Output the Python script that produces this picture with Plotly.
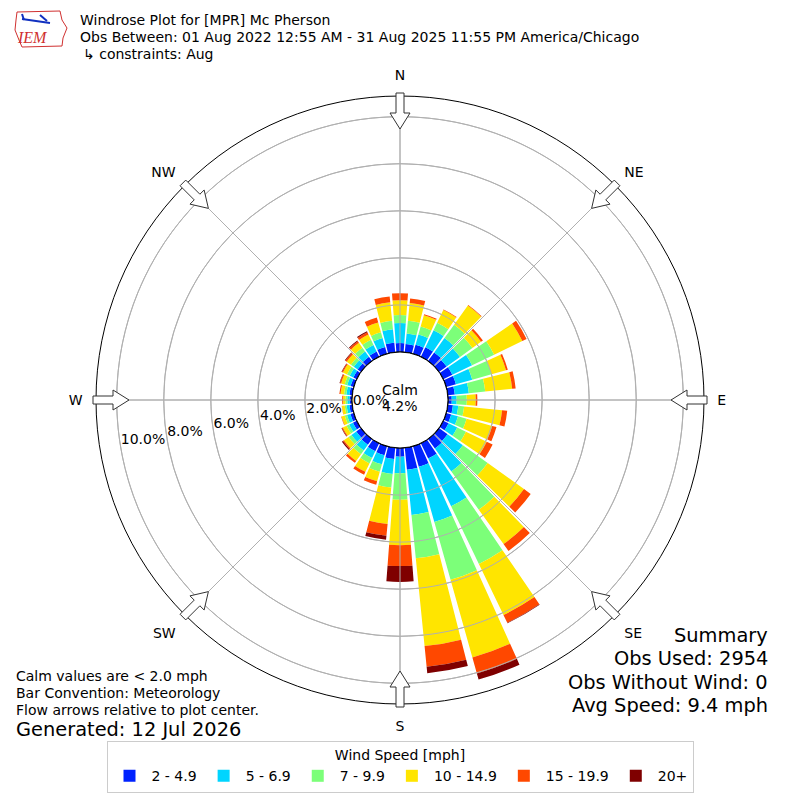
import math
import plotly.graph_objects as go

# wind directions (deg, meteorological) and speed classes
directions = list(range(0, 360, 10))
speed_bins = ["2 - 4.9", "5 - 6.9", "7 - 9.9", "10 - 14.9", "15 - 19.9", "20+"]
bin_colors = ["#0022ff", "#00d5ff", "#7cff79", "#ffe500", "#ff4800", "#7f0000"]

# percent of obs per direction for each speed class
pct_2_5 = [0.38, 0.35, 0.40, 0.45, 0.45, 0.40, 0.43, 0.43, 0.30, 0.16, 0.22, 0.22,
           0.25, 0.45, 0.50, 0.72, 0.91, 0.94, 0.37, 0.48, 0.40, 0.38, 0.30, 0.25,
           0.18, 0.15, 0.12, 0.10, 0.12, 0.14, 0.16, 0.18, 0.22, 0.25, 0.30, 0.40]
pct_5_7 = [0.85, 0.45, 0.45, 0.80, 0.75, 0.70, 0.93, 0.72, 0.60, 0.21, 0.23, 0.30,
           0.41, 0.80, 1.20, 2.25, 2.44, 1.93, 0.70, 0.64, 0.40, 0.32, 0.30, 0.25,
           0.18, 0.15, 0.12, 0.10, 0.13, 0.15, 0.17, 0.20, 0.28, 0.31, 0.40, 0.58]
pct_7_10 = [0.34, 0.55, 0.35, 0.35, 0.70, 0.65, 1.04, 0.85, 0.70, 0.43, 0.25, 0.38,
            0.41, 1.30, 2.00, 2.72, 2.55, 1.85, 1.13, 0.58, 0.33, 0.25, 0.20, 0.15,
            0.12, 0.10, 0.08, 0.08, 0.10, 0.11, 0.13, 0.15, 0.20, 0.24, 0.25, 0.36]
pct_10_15 = [0.63, 0.75, 0.50, 0.60, 1.00, 0.45, 1.33, 0.64, 1.15, 0.38, 1.62, 1.13,
             0.98, 1.90, 1.80, 2.41, 3.43, 3.75, 1.93, 1.56, 0.42, 0.40, 0.35, 0.25,
             0.18, 0.14, 0.12, 0.10, 0.15, 0.16, 0.19, 0.22, 0.25, 0.25, 0.43, 0.79]
pct_15_20 = [0.30, 0.20, 0.05, 0.03, 0.03, 0.10, 0.20, 0.08, 0.15, 0.07, 0.22, 0.19,
             0.28, 0.35, 0.36, 0.37, 0.70, 0.88, 0.89, 0.50, 0.15, 0.13, 0.10, 0.05,
             0.04, 0.02, 0.01, 0.04, 0.05, 0.05, 0.05, 0.07, 0.08, 0.10, 0.22, 0.25]
pct_20_up = [0.00, 0.00, 0.00, 0.00, 0.00, 0.00, 0.00, 0.00, 0.00, 0.00, 0.00, 0.00,
             0.00, 0.00, 0.00, 0.02, 0.27, 0.28, 0.67, 0.17, 0.00, 0.00, 0.00, 0.05,
             0.02, 0.00, 0.00, 0.00, 0.00, 0.02, 0.02, 0.03, 0.04, 0.05, 0.00, 0.00]

calm_pct = 4.2
compass_angles = [0, 45, 90, 135, 180, 225, 270, 315]
compass_names = ["N", "NE", "E", "SE", "S", "SW", "W", "NW"]
ring_vals = [0, 2, 4, 6, 8, 10]
ring_labels = [f"{v:.1f}%" for v in ring_vals]
summary_lines = ["Summary", "Obs Used: 2954", "Obs Without Wind: 0", "Avg Speed: 9.4 mph"]
notes_lines = ["Calm values are < 2.0 mph", "Bar Convention: Meteorology",
               "Flow arrows relative to plot center."]

series = [pct_2_5, pct_5_7, pct_7_10, pct_10_15, pct_15_20, pct_20_up]

fig = go.Figure()
for name, col, vals in zip(speed_bins, bin_colors, series):
    fig.add_trace(go.Barpolar(r=vals, theta=directions, name=name, width=8.6,
                              marker=dict(color=col, line=dict(width=0))))

# grid drawn over the bars like the original
circle_theta = list(range(0, 361, 2))
for rv in ring_vals[1:]:
    fig.add_trace(go.Scatterpolar(r=[rv] * len(circle_theta), theta=circle_theta, mode="lines",
                                  line=dict(color="#b0b0b0", width=1), showlegend=False,
                                  hoverinfo="skip"))
rmax = 10.88
for a in compass_angles:
    fig.add_trace(go.Scatterpolar(r=[0, rmax], theta=[a, a], mode="lines",
                                  line=dict(color="#b0b0b0", width=1), showlegend=False,
                                  hoverinfo="skip"))
fig.add_trace(go.Scatterpolar(r=[0] * len(circle_theta), theta=circle_theta, mode="lines",
                              line=dict(color="black", width=1.2), showlegend=False,
                              hoverinfo="skip"))

# radial labels sit just past each ring, a little below west
fig.add_trace(go.Scatterpolar(r=ring_vals, theta=[260.3] * len(ring_vals), mode="text",
                              text=ring_labels, textposition="top right",
                              textfont=dict(size=14, color="black"), showlegend=False,
                              hoverinfo="skip", cliponaxis=False))

# geometry in px (figure is 800x800 with no margins)
W = 800
cx, cy, R, hole_px = 400, 400, 304, 48


def px(x, y):
    return x / W, 1 - y / W


# hollow compass arrows at the rim
shapes = []
for b in compass_angles:
    a = math.radians(b)
    u = (math.sin(a), -math.cos(a))
    v = (math.cos(a), math.sin(a))
    pts = [(307, 4), (287, 4), (287, 10), (271, 0), (287, -10), (287, -4), (307, -4)]
    path = ""
    for i, (rr, ww) in enumerate(pts):
        x = cx + u[0] * rr + v[0] * ww
        y = cy + u[1] * rr + v[1] * ww
        fx, fy = px(x, y)
        path += ("M" if i == 0 else "L") + f"{fx:.5f},{fy:.5f} "
    path += "Z"
    shapes.append(dict(type="path", path=path, xref="paper", yref="paper",
                       fillcolor="white", line=dict(color="#333333", width=1), layer="above"))

# rough IEM logo outline
logo = [(17, 12), (60, 11), (62, 20), (67, 28), (63, 38), (62, 46), (22, 47), (19, 40), (15, 30), (16, 20)]
lp = ""
for i, (x, y) in enumerate(logo):
    fx, fy = px(x, y)
    lp += ("M" if i == 0 else "L") + f"{fx:.5f},{fy:.5f} "
shapes.append(dict(type="path", path=lp + "Z", xref="paper", yref="paper",
                   line=dict(color="#d03030", width=1)))
for (ax0, ay0, ax1, ay1) in [(22, 19, 50, 23), (40, 15, 47, 21), (22, 14, 24, 20)]:
    bx0, by0 = px(ax0, ay0)
    bx1, by1 = px(ax1, ay1)
    shapes.append(dict(type="line", xref="paper", yref="paper", x0=bx0, y0=by0, x1=bx1, y1=by1,
                       line=dict(color="#1030c0", width=2)))

font = "DejaVu Sans, Arial, sans-serif"
ann = []


def add_text(txt, x, y, size=14, xanchor="left", color="black", family=font):
    if xanchor == "left":
        x -= 2
    elif xanchor == "right":
        x += 2
    fx, fy = px(x, y)
    ann.append(dict(text=txt, x=fx, y=fy, xref="paper", yref="paper", showarrow=False,
                    xanchor=xanchor, yanchor="middle", font=dict(size=size, color=color, family=family)))


add_text("Windrose Plot for [MPR] Mc Pherson", 80, 20)
add_text("Obs Between: 01 Aug 2022 12:55 AM - 31 Aug 2025 11:55 PM America/Chicago", 80, 37)
add_text("↳ constraints: Aug", 83, 54)
add_text("<i>IEM</i>", 32, 38, size=16, xanchor="center", color="#d03030",
         family="Liberation Serif, serif")
add_text("Calm", 400, 390, xanchor="center")
add_text(f"{calm_pct:.1f}%", 400, 406, xanchor="center")
for i, line in enumerate(summary_lines):
    add_text(line, 768, 635 + i * 23.5, size=19.4, xanchor="right")
for i, line in enumerate(notes_lines):
    add_text(line, 16, 676 + i * 17, size=14)
add_text("Generated: 12 Jul 2026", 16, 729, size=19.4)

fig.update_layout(
    width=800, height=800,
    margin=dict(l=0, r=0, t=0, b=0),
    paper_bgcolor="white",
    font=dict(family=font, size=14, color="black"),
    polar=dict(
        domain=dict(x=[(cx - R) / W, (cx + R) / W], y=[(cy - R) / W, (cy + R) / W]),
        bgcolor="white",
        hole=hole_px / R,
        barmode="stack",
        angularaxis=dict(rotation=90, direction="clockwise", tickmode="array",
                         tickvals=compass_angles, ticktext=compass_names,
                         showline=True, linecolor="black", linewidth=1,
                         gridcolor="#b0b0b0", gridwidth=1,
                         ticks="outside", ticklen=10, tickcolor="rgba(0,0,0,0)",
                         tickfont=dict(size=14)),
        radialaxis=dict(range=[0, rmax], tickmode="array", tickvals=ring_vals,
                        showticklabels=False, showline=False, ticks="",
                        gridcolor="#b0b0b0", gridwidth=1),
    ),
    legend=dict(orientation="h", x=0.5, xanchor="center", y=1 - 741 / W, yanchor="top",
                title=dict(text="Wind Speed [mph]", side="top center", font=dict(size=14)),
                bordercolor="#cccccc", borderwidth=1, font=dict(size=14), itemwidth=34),
    shapes=shapes,
    annotations=ann,
)

fig.write_html("out.html", config={"displayModeBar": False},
               post_script="document.body.style.margin='0px';")
